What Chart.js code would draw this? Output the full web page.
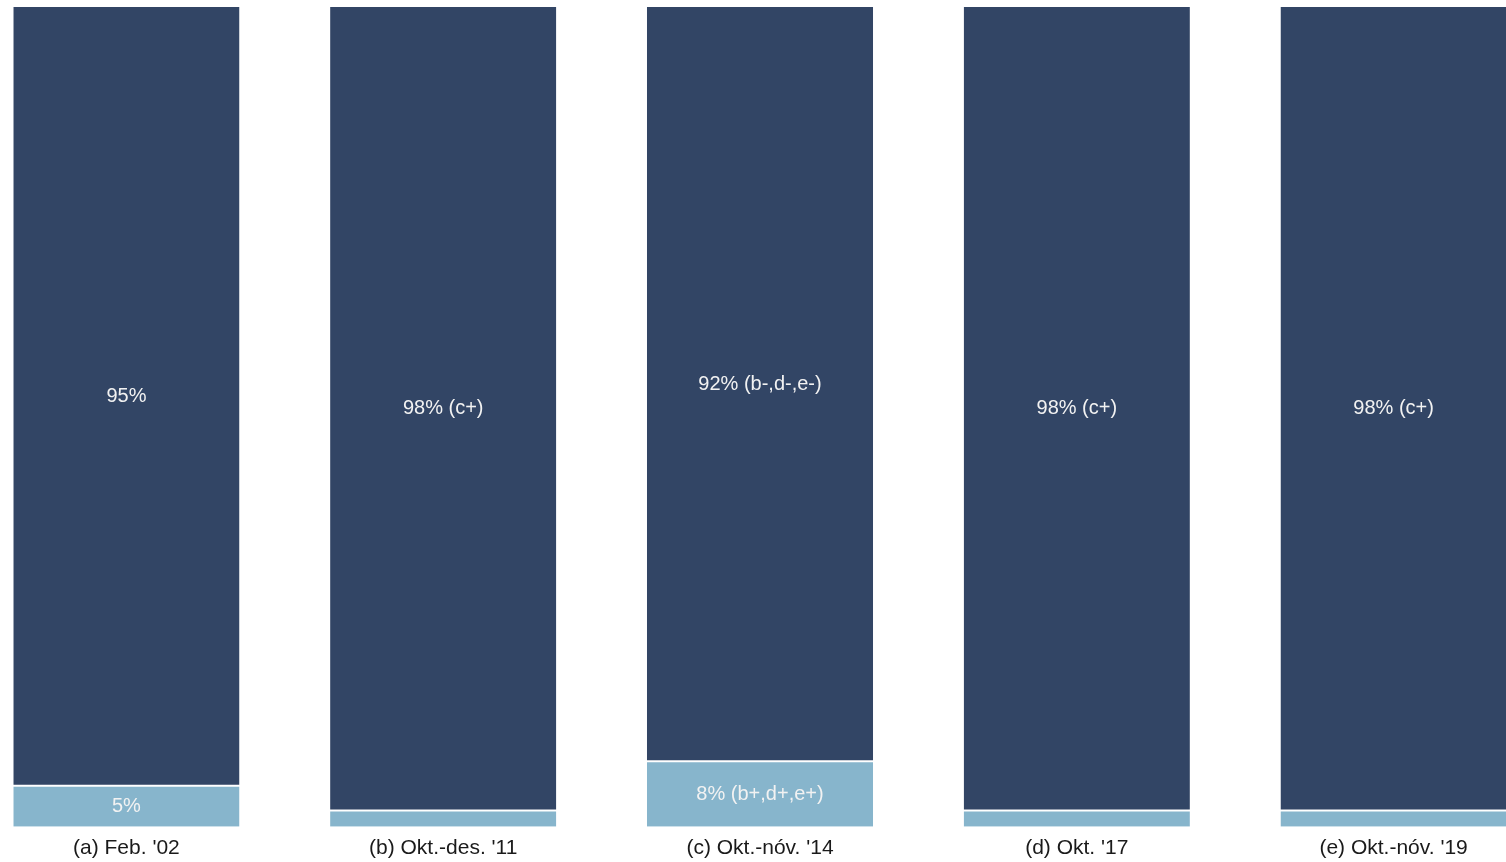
<!DOCTYPE html>
<html>
<head>
<meta charset="utf-8">
<script src="https://cdn.jsdelivr.net/npm/chart.js@4"></script>
<style>
  html, body { margin: 0; padding: 0; background: #fff; overflow: hidden; }
  #wrap { position: absolute; left: -32px; top: 0; width: 1584px; height: 862px; }
</style>
</head>
<body>
<div id="wrap"><canvas id="chart"></canvas></div>
<script>
const categories = ["(a) Feb. '02", "(b) Okt.-des. '11", "(c) Okt.-nóv. '14", "(d) Okt. '17", "(e) Okt.-nóv. '19"];
const lowValues = [5, 2, 8, 2, 2];
const highValues = [95, 98, 92, 98, 98];
const lowLabels = ['5%', '', '8% (b+,d+,e+)', '', ''];
const highLabels = ['95%', '98% (c+)', '92% (b-,d-,e-)', '98% (c+)', '98% (c+)'];

// draws text centred in each bar segment
const segmentLabels = {
  id: 'segmentLabels',
  afterDatasetsDraw(chart) {
    const ctx = chart.ctx;
    ctx.save();
    ctx.font = '20px "Liberation Sans", Arial, sans-serif';
    ctx.fillStyle = '#f2f2f2';
    ctx.textAlign = 'center';
    ctx.textBaseline = 'middle';
    chart.data.datasets.forEach((ds, i) => {
      const meta = chart.getDatasetMeta(i);
      meta.data.forEach((bar, j) => {
        const txt = ds.labelsText[j];
        if (!txt) return;
        const y = (bar.y + bar.base) / 2;
        ctx.fillText(txt, bar.x, y);
      });
    });
    ctx.restore();
  }
};

new Chart(document.getElementById('chart'), {
  type: 'bar',
  data: {
    labels: categories,
    datasets: [{
      data: lowValues,
      labelsText: lowLabels,
      backgroundColor: '#87b5cc',
      borderColor: '#ffffff',
      borderWidth: { top: 1 },
      borderSkipped: false
    }, {
      data: highValues,
      labelsText: highLabels,
      backgroundColor: '#324565',
      borderColor: '#ffffff',
      borderWidth: { bottom: 1 },
      borderSkipped: false
    }]
  },
  options: {
    responsive: true,
    maintainAspectRatio: false,
    animation: false,
    categoryPercentage: 1,
    barPercentage: 0.714,
    layout: { padding: { top: 7, bottom: 0 } },
    plugins: {
      legend: { display: false },
      tooltip: { enabled: false }
    },
    scales: {
      x: {
        stacked: true,
        grid: { display: false },
        border: { display: false },
        ticks: {
          padding: 1,
          color: '#1a1a1a',
          font: { family: '"Liberation Sans", Arial, sans-serif', size: 21 }
        }
      },
      y: {
        stacked: true,
        display: false,
        min: 0,
        max: 100
      }
    }
  },
  plugins: [segmentLabels]
});
</script>
</body>
</html>
